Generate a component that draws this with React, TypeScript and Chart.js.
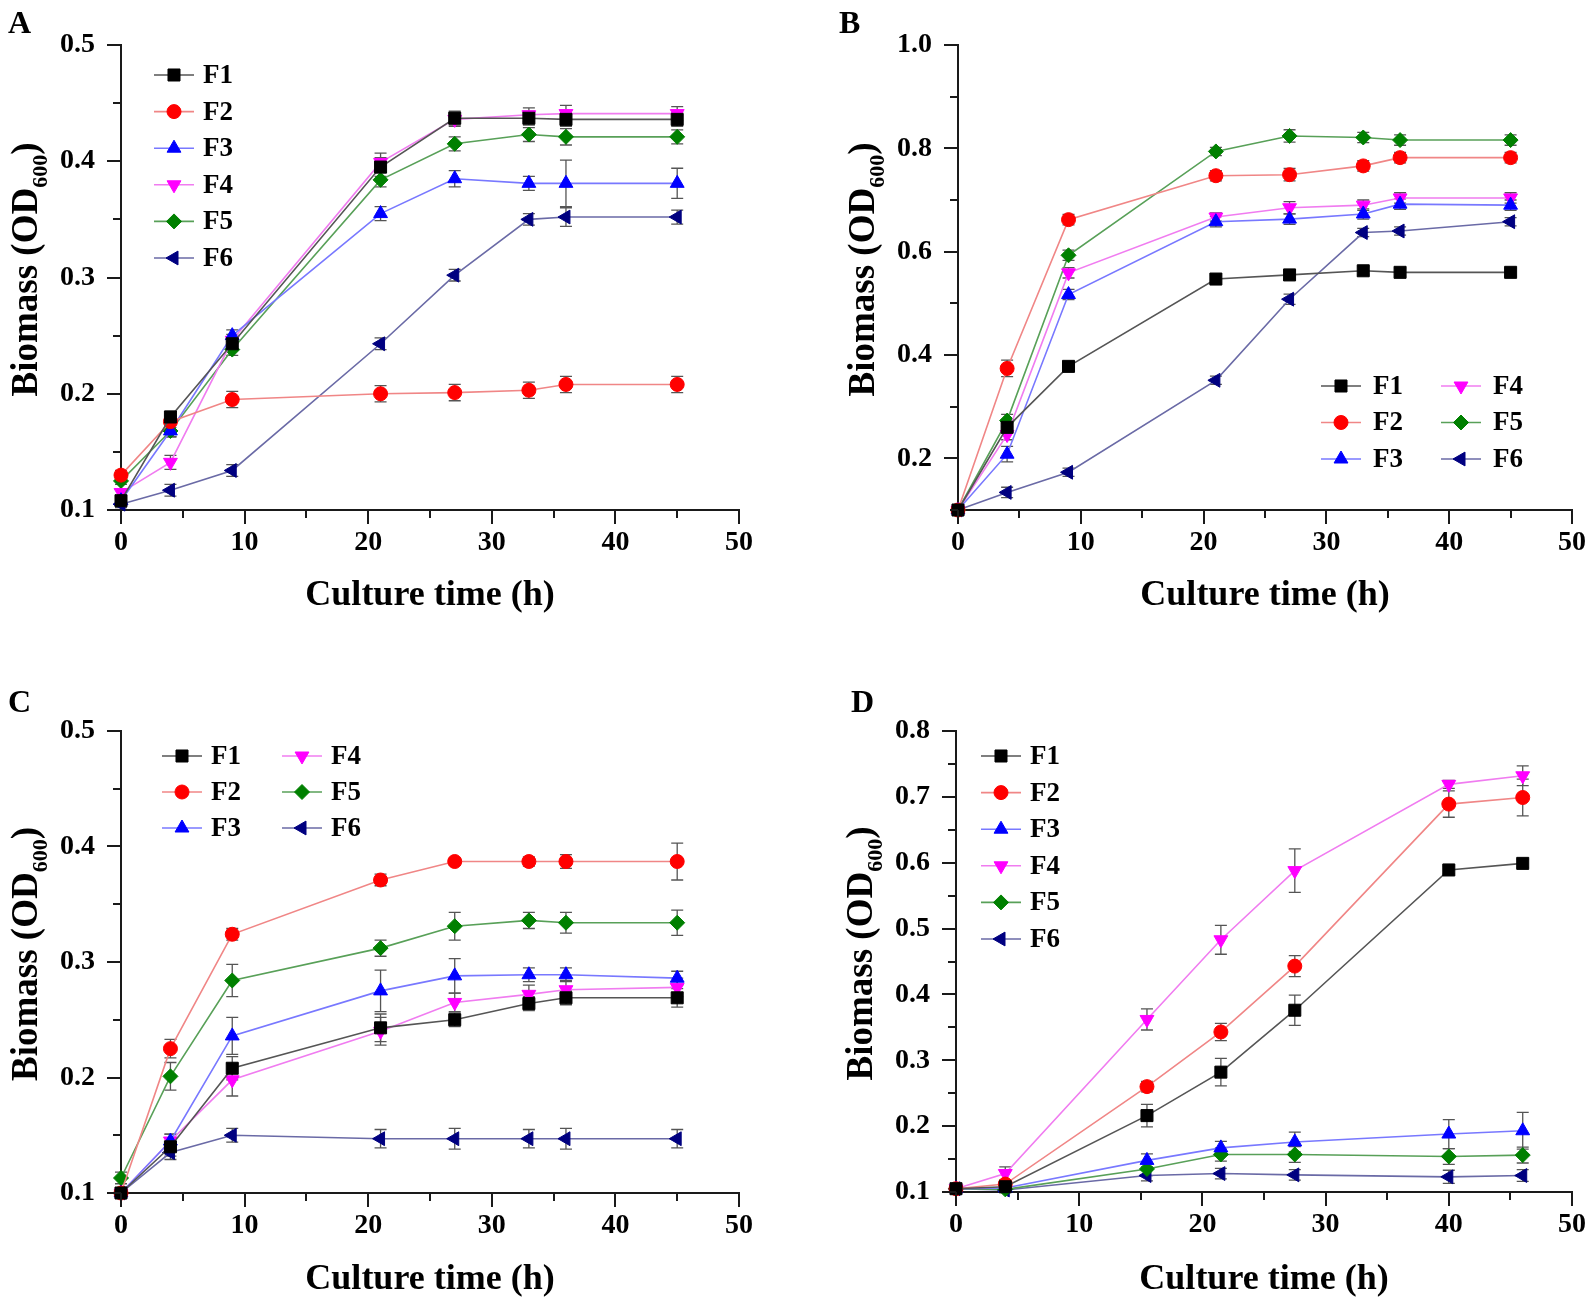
import React, { useEffect, useRef } from "react";
import { Chart, registerables } from "chart.js";
import { drawPoint } from "chart.js/helpers";

Chart.register(...registerables);

const FONT = "'Liberation Serif', 'Times New Roman', serif";
const SERIES = ["F1", "F2", "F3", "F4", "F5", "F6"];
const X_TITLE = "Culture time (h)";
const Y_TITLE_MAIN = "Biomass (OD";
const Y_TITLE_SUB = "600";
const Y_TITLE_END = ")";

// ---------- Panel A ----------
const A_TIME = [0, 4, 9, 21, 27, 33, 36, 45];
const A_F1 = [0.108, 0.18, 0.243, 0.395, 0.437, 0.437, 0.436, 0.436];
const A_F2 = [0.13, 0.176, 0.195, 0.2, 0.201, 0.203, 0.208, 0.208];
const A_F3 = [0.108, 0.168, 0.25, 0.355, 0.385, 0.381, 0.381, 0.381];
const A_F4 = [0.115, 0.141, 0.246, 0.399, 0.436, 0.44, 0.441, 0.441];
const A_F5 = [0.125, 0.168, 0.238, 0.384, 0.415, 0.423, 0.421, 0.421];
const A_F6 = [0.105, 0.117, 0.134, 0.243, 0.302, 0.35, 0.352, 0.352];
const A_F1_ERR = [0.003, 0.005, 0.005, 0.008, 0.006, 0.006, 0.006, 0.006];
const A_F2_ERR = [0.004, 0.005, 0.007, 0.007, 0.007, 0.007, 0.007, 0.007];
const A_F3_ERR = [0.003, 0.005, 0.005, 0.006, 0.007, 0.006, 0.02, 0.013];
const A_F4_ERR = [0.003, 0.006, 0.005, 0.008, 0.006, 0.006, 0.007, 0.006];
const A_F5_ERR = [0.003, 0.005, 0.005, 0.006, 0.006, 0.006, 0.007, 0.006];
const A_F6_ERR = [0.003, 0.005, 0.005, 0.005, 0.005, 0.005, 0.008, 0.006];

// ---------- Panel B ----------
const B_TIME = [0, 4, 9, 21, 27, 33, 36, 45];
const B_F1 = [0.1, 0.26, 0.378, 0.547, 0.555, 0.563, 0.56, 0.56];
const B_F2 = [0.1, 0.374, 0.662, 0.747, 0.749, 0.766, 0.782, 0.782];
const B_F3 = [0.1, 0.208, 0.517, 0.658, 0.663, 0.673, 0.692, 0.69];
const B_F4 = [0.1, 0.246, 0.559, 0.667, 0.685, 0.69, 0.704, 0.704];
const B_F5 = [0.1, 0.273, 0.593, 0.794, 0.824, 0.821, 0.816, 0.816];
const B_F6 = [0.1, 0.134, 0.173, 0.351, 0.508, 0.637, 0.64, 0.658];
const B_F1_ERR = [0.004, 0.008, 0.008, 0.008, 0.008, 0.008, 0.008, 0.008];
const B_F2_ERR = [0.004, 0.016, 0.01, 0.01, 0.012, 0.01, 0.01, 0.01];
const B_F3_ERR = [0.004, 0.015, 0.01, 0.01, 0.01, 0.01, 0.01, 0.01];
const B_F4_ERR = [0.004, 0.01, 0.01, 0.008, 0.012, 0.01, 0.01, 0.01];
const B_F5_ERR = [0.004, 0.012, 0.01, 0.008, 0.012, 0.01, 0.01, 0.01];
const B_F6_ERR = [0.004, 0.01, 0.008, 0.008, 0.01, 0.008, 0.008, 0.008];

// ---------- Panel C ----------
const C_TIME = [0, 4, 9, 21, 27, 33, 36, 45];
const C_F1 = [0.1, 0.14, 0.208, 0.243, 0.25, 0.264, 0.269, 0.269];
const C_F2 = [0.1, 0.225, 0.324, 0.371, 0.387, 0.387, 0.387, 0.387];
const C_F3 = [0.1, 0.145, 0.236, 0.275, 0.288, 0.289, 0.289, 0.286];
const C_F4 = [0.1, 0.145, 0.198, 0.24, 0.265, 0.272, 0.276, 0.278];
const C_F5 = [0.113, 0.201, 0.284, 0.312, 0.331, 0.336, 0.334, 0.334];
const C_F6 = [0.1, 0.135, 0.15, 0.147, 0.147, 0.147, 0.147, 0.147];
const C_F1_ERR = [0.003, 0.008, 0.01, 0.012, 0.006, 0.006, 0.006, 0.008];
const C_F2_ERR = [0.003, 0.008, 0.005, 0.005, 0.003, 0.004, 0.006, 0.016];
const C_F3_ERR = [0.003, 0.006, 0.016, 0.018, 0.015, 0.006, 0.006, 0.006];
const C_F4_ERR = [0.003, 0.006, 0.014, 0.012, 0.008, 0.008, 0.008, 0.008];
const C_F5_ERR = [0.005, 0.012, 0.014, 0.007, 0.012, 0.007, 0.009, 0.011];
const C_F6_ERR = [0.003, 0.006, 0.006, 0.008, 0.009, 0.008, 0.009, 0.008];

// ---------- Panel D ----------
const D_TIME = [0, 4, 15.5, 21.5, 27.5, 40, 46];
const D_F1 = [0.105, 0.108, 0.216, 0.282, 0.376, 0.589, 0.599];
const D_F2 = [0.105, 0.112, 0.26, 0.343, 0.443, 0.689, 0.699];
const D_F3 = [0.105, 0.106, 0.148, 0.167, 0.176, 0.188, 0.193];
const D_F4 = [0.105, 0.128, 0.362, 0.483, 0.588, 0.719, 0.732];
const D_F5 = [0.105, 0.104, 0.135, 0.157, 0.157, 0.154, 0.156];
const D_F6 = [0.105, 0.103, 0.125, 0.128, 0.126, 0.123, 0.125];
const D_F1_ERR = [0.004, 0.006, 0.017, 0.021, 0.023, 0.006, 0.006];
const D_F2_ERR = [0.004, 0.006, 0.008, 0.013, 0.016, 0.02, 0.028];
const D_F3_ERR = [0.003, 0.005, 0.01, 0.01, 0.015, 0.022, 0.028];
const D_F4_ERR = [0.004, 0.01, 0.016, 0.022, 0.033, 0.006, 0.015];
const D_F5_ERR = [0.003, 0.004, 0.01, 0.01, 0.012, 0.012, 0.012];
const D_F6_ERR = [0.003, 0.004, 0.008, 0.008, 0.008, 0.01, 0.009];

// ---------- styles ----------
const MARKER_COLORS = ["#000000", "#ff0000", "#0000ff", "#ff00ff", "#008000", "#000080"];
const LINE_COLORS = ["#555555", "#f08686", "#7878ff", "#f07cf0", "#58a058", "#6a6aa6"];
const POINT_STYLES = ["rect", "circle", "triangle", "triangle", "rectRot", "triangle"];
const POINT_ROT = [0, 0, 0, 180, 0, -90];
const POINT_RADIUS = [8.5, 7, 8, 8, 7.5, 8];

type Box = { left: number; top: number; w: number; h: number };
type Area = { left: number; right: number; top: number; bottom: number };
type Legend = { x: number; y: number; rows: number; colGap: number; rowGap: number; lineLen: number; textGap: number };
type Panel = {
  letter: string;
  letterX: number;
  letterY: number;
  times: number[];
  means: number[][];
  errs: number[][];
  yMin: number;
  yMax: number;
  yMinor: number;
  yMajor: number;
  canvas: Box;
  area: Area;
  xTitleY: number;
  legend: Legend;
};

const PANELS: Panel[] = [
  {
    letter: "A", letterX: 8, letterY: 33,
    times: A_TIME,
    means: [A_F1, A_F2, A_F3, A_F4, A_F5, A_F6],
    errs: [A_F1_ERR, A_F2_ERR, A_F3_ERR, A_F4_ERR, A_F5_ERR, A_F6_ERR],
    yMin: 0.1, yMax: 0.5, yMinor: 0.05, yMajor: 0.1,
    canvas: { left: 0, top: 0, w: 796, h: 652 },
    area: { left: 121, right: 739, top: 45, bottom: 510 },
    xTitleY: 596,
    legend: { x: 154, y: 75, rows: 6, colGap: 0, rowGap: 36.6, lineLen: 40, textGap: 9 },
  },
  {
    letter: "B", letterX: 839, letterY: 33,
    times: B_TIME,
    means: [B_F1, B_F2, B_F3, B_F4, B_F5, B_F6],
    errs: [B_F1_ERR, B_F2_ERR, B_F3_ERR, B_F4_ERR, B_F5_ERR, B_F6_ERR],
    yMin: 0.1, yMax: 1.0, yMinor: 0.1, yMajor: 0.2,
    canvas: { left: 796, top: 0, w: 840, h: 652 },
    area: { left: 958, right: 1572, top: 45, bottom: 510 },
    xTitleY: 596,
    legend: { x: 1321, y: 386, rows: 3, colGap: 120, rowGap: 36.5, lineLen: 40, textGap: 12 },
  },
  {
    letter: "C", letterX: 8, letterY: 712,
    times: C_TIME,
    means: [C_F1, C_F2, C_F3, C_F4, C_F5, C_F6],
    errs: [C_F1_ERR, C_F2_ERR, C_F3_ERR, C_F4_ERR, C_F5_ERR, C_F6_ERR],
    yMin: 0.1, yMax: 0.5, yMinor: 0.05, yMajor: 0.1,
    canvas: { left: 0, top: 652, w: 796, h: 652 },
    area: { left: 121, right: 739, top: 731, bottom: 1193 },
    xTitleY: 1280,
    legend: { x: 162, y: 756, rows: 3, colGap: 120, rowGap: 36, lineLen: 40, textGap: 9 },
  },
  {
    letter: "D", letterX: 851, letterY: 712,
    times: D_TIME,
    means: [D_F1, D_F2, D_F3, D_F4, D_F5, D_F6],
    errs: [D_F1_ERR, D_F2_ERR, D_F3_ERR, D_F4_ERR, D_F5_ERR, D_F6_ERR],
    yMin: 0.1, yMax: 0.8, yMinor: 0.05, yMajor: 0.1,
    canvas: { left: 796, top: 652, w: 840, h: 652 },
    area: { left: 956, right: 1572, top: 731, bottom: 1192 },
    xTitleY: 1280,
    legend: { x: 981, y: 756, rows: 6, colGap: 0, rowGap: 36.6, lineLen: 40, textGap: 9 },
  },
];

const isMajor = (v: number, step: number) => Math.abs(v / step - Math.round(v / step)) < 1e-6;

const TICK_FONT = { family: FONT, size: 28, weight: "bold" as const };
const TITLE_SIZE = 36;
const Y_TITLE_SIZE = 37;
const AXIS_COLOR = "#1a1a1a";

function makeConfig(p: Panel): any {
  const c = p.canvas;
  const rel = {
    left: p.area.left - c.left,
    right: p.area.right - c.left,
    top: p.area.top - c.top,
    bottom: p.area.bottom - c.top,
  };
  const titleOffset = c.top + c.h - p.xTitleY;
  const titlePadBottom = Math.max(0, titleOffset - (TITLE_SIZE * 1.2) / 2);

  const errorBarPlugin = {
    id: "errorBars",
    beforeDatasetsDraw(chart: any) {
      const ctx = chart.ctx;
      const ys = chart.scales.y;
      ctx.save();
      ctx.strokeStyle = "#555555";
      ctx.lineWidth = 1.3;
      chart.data.datasets.forEach((ds: any, i: number) => {
        const meta = chart.getDatasetMeta(i);
        meta.data.forEach((pt: any, j: number) => {
          const v = ds.data[j].y;
          const e = ds.errors[j];
          if (!e) return;
          const yt = ys.getPixelForValue(v + e);
          const yb = ys.getPixelForValue(v - e);
          const x = pt.x;
          ctx.beginPath();
          ctx.moveTo(x, yt);
          ctx.lineTo(x, yb);
          ctx.moveTo(x - 6, yt);
          ctx.lineTo(x + 6, yt);
          ctx.moveTo(x - 6, yb);
          ctx.lineTo(x + 6, yb);
          ctx.stroke();
        });
      });
      ctx.restore();
    },
  };

  const tickPlugin = {
    id: "outerTicks",
    afterDraw(chart: any) {
      const ctx = chart.ctx;
      const xs = chart.scales.x;
      const ys = chart.scales.y;
      const a = chart.chartArea;
      ctx.save();
      ctx.strokeStyle = AXIS_COLOR;
      ctx.lineWidth = 2;
      ctx.beginPath();
      xs.ticks.forEach((t: any) => {
        const x = Math.round(xs.getPixelForValue(t.value));
        const len = isMajor(t.value, 10) ? 14 : 8;
        ctx.moveTo(x, a.bottom);
        ctx.lineTo(x, a.bottom + len);
      });
      ys.ticks.forEach((t: any) => {
        const y = Math.round(ys.getPixelForValue(t.value));
        const len = isMajor(t.value, p.yMajor) ? 14 : 8;
        ctx.moveTo(a.left, y);
        ctx.lineTo(a.left - len, y);
      });
      ctx.stroke();
      ctx.restore();
    },
  };

  const legendPlugin = {
    id: "lineLegend",
    afterDraw(chart: any) {
      const ctx = chart.ctx;
      const L = p.legend;
      ctx.save();
      chart.data.datasets.forEach((ds: any, i: number) => {
        const col = Math.floor(i / L.rows);
        const row = i % L.rows;
        const x0 = L.x - c.left + col * L.colGap;
        const y = L.y - c.top + row * L.rowGap;
        ctx.strokeStyle = ds.borderColor;
        ctx.lineWidth = ds.borderWidth;
        ctx.beginPath();
        ctx.moveTo(x0, y);
        ctx.lineTo(x0 + L.lineLen, y);
        ctx.stroke();
        ctx.fillStyle = ds.pointBackgroundColor;
        ctx.strokeStyle = ds.pointBorderColor;
        ctx.lineWidth = 1;
        drawPoint(ctx, { pointStyle: ds.pointStyle, rotation: ds.pointRotation, radius: ds.pointRadius, borderWidth: 1 } as any, x0 + L.lineLen / 2, y);
        ctx.fillStyle = "#000";
        ctx.font = `bold 27px ${FONT}`;
        ctx.textAlign = "left";
        ctx.textBaseline = "middle";
        ctx.fillText(ds.label, x0 + L.lineLen + L.textGap, y + 1);
      });
      ctx.restore();
    },
  };

  const yTitlePlugin = {
    id: "yTitleSub",
    afterDraw(chart: any) {
      const ctx = chart.ctx;
      const a = chart.chartArea;
      const cx = a.left - 94;
      const cy = (a.top + a.bottom) / 2 - 8;
      ctx.save();
      ctx.fillStyle = "#000";
      const mainFont = `bold ${Y_TITLE_SIZE}px ${FONT}`;
      const subFont = `bold 22px ${FONT}`;
      ctx.font = mainFont;
      const w1 = ctx.measureText(Y_TITLE_MAIN).width;
      const w3 = ctx.measureText(Y_TITLE_END).width;
      ctx.font = subFont;
      const w2 = ctx.measureText(Y_TITLE_SUB).width;
      const total = w1 + w2 + w3;
      ctx.translate(cx, cy);
      ctx.rotate(-Math.PI / 2);
      ctx.textAlign = "left";
      ctx.textBaseline = "middle";
      let x = -total / 2;
      ctx.font = mainFont;
      ctx.fillText(Y_TITLE_MAIN, x, 0);
      x += w1;
      ctx.font = subFont;
      ctx.fillText(Y_TITLE_SUB, x, 14);
      x += w2;
      ctx.font = mainFont;
      ctx.fillText(Y_TITLE_END, x, 0);
      ctx.restore();

      // panel letter
      ctx.save();
      ctx.fillStyle = "#000";
      ctx.font = `bold 32px ${FONT}`;
      ctx.textAlign = "left";
      ctx.textBaseline = "alphabetic";
      ctx.fillText(p.letter, p.letterX - c.left, p.letterY - c.top);
      ctx.restore();
    },
  };

  return {
    type: "line",
    data: {
      datasets: SERIES.map((name, i) => ({
        label: name,
        data: p.times.map((t, j) => ({ x: t, y: p.means[i][j] })),
        errors: p.errs[i],
        borderColor: LINE_COLORS[i],
        backgroundColor: MARKER_COLORS[i],
        pointBackgroundColor: MARKER_COLORS[i],
        pointBorderColor: MARKER_COLORS[i],
        pointBorderWidth: 1,
        pointStyle: POINT_STYLES[i],
        pointRotation: POINT_ROT[i],
        pointRadius: POINT_RADIUS[i],
        borderWidth: 1.6,
        tension: 0,
        clip: false,
      })),
    },
    options: {
      responsive: false,
      animation: false,
      devicePixelRatio: 1,
      events: [],
      layout: { padding: { left: 0, top: rel.top, right: c.w - rel.right, bottom: 0 } },
      plugins: {
        legend: { display: false },
        tooltip: { enabled: false },
        title: { display: false },
      },
      scales: {
        x: {
          type: "linear",
          min: 0,
          max: 50,
          ticks: {
            stepSize: 5,
            autoSkip: false,
            maxRotation: 0,
            padding: 16,
            color: "#000",
            font: TICK_FONT,
            callback: (v: number) => (isMajor(v, 10) ? String(Math.round(v)) : ""),
          },
          grid: { display: true, drawOnChartArea: false, drawTicks: false },
          border: { display: true, color: AXIS_COLOR, width: 2 },
          title: {
            display: true,
            text: X_TITLE,
            color: "#000",
            font: { family: FONT, size: TITLE_SIZE, weight: "bold" },
            padding: { top: 0, bottom: titlePadBottom },
          },
          afterFit: (s: any) => {
            s.height = c.h - rel.bottom;
          },
        },
        y: {
          type: "linear",
          min: p.yMin,
          max: p.yMax,
          ticks: {
            stepSize: p.yMinor,
            autoSkip: false,
            padding: 26,
            color: "#000",
            font: TICK_FONT,
            callback: (v: number) => (isMajor(v, p.yMajor) ? v.toFixed(1) : ""),
          },
          grid: { display: true, drawOnChartArea: false, drawTicks: false },
          border: { display: true, color: AXIS_COLOR, width: 2 },
          afterFit: (s: any) => {
            s.width = rel.left;
          },
        },
      },
    },
    plugins: [errorBarPlugin, tickPlugin, legendPlugin, yTitlePlugin],
  };
}

function PanelChart({ p }: { p: Panel }) {
  const ref = useRef<HTMLCanvasElement>(null);
  useEffect(() => {
    if (!ref.current) return;
    const chart = new Chart(ref.current, makeConfig(p));
    return () => chart.destroy();
  }, [p]);
  return (
    <canvas
      ref={ref}
      width={p.canvas.w}
      height={p.canvas.h}
      style={{
        position: "absolute",
        left: p.canvas.left,
        top: p.canvas.top,
        width: p.canvas.w,
        height: p.canvas.h,
      }}
    />
  );
}

export default function App() {
  return (
    <div
      style={{
        position: "absolute",
        left: 0,
        top: 0,
        width: 1593,
        height: 1304,
        background: "#ffffff",
        overflow: "hidden",
      }}
    >
      {PANELS.map((p) => (
        <PanelChart key={p.letter} p={p} />
      ))}
    </div>
  );
}
